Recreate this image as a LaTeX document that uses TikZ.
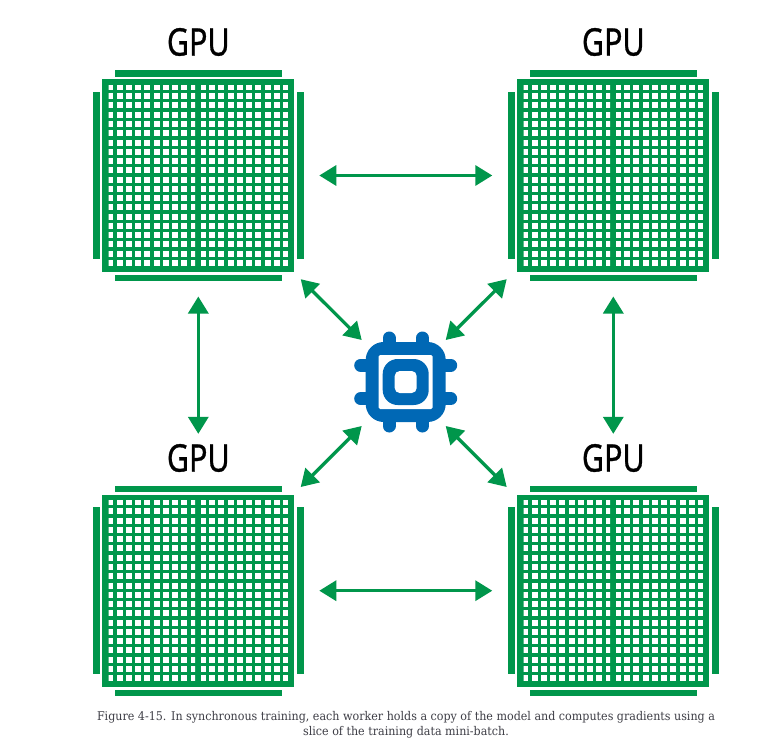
\documentclass[tikz,border=0pt]{standalone}
\usepackage{fontspec}
\usetikzlibrary{arrows.meta}
\newfontfamily\gpufont[FakeStretch=0.8,FakeBold=0.8]{Noto Sans}
\newfontfamily\capfont[FakeStretch=0.926]{DejaVu Serif}
\definecolor{gpugreen}{HTML}{00964B}
\definecolor{cpublue}{HTML}{0068B5}
\definecolor{captext}{HTML}{3E3E46}
\tikzset{
  gpubody/.style={draw=none,fill=gpugreen,minimum width=192pt,minimum height=192pt,inner sep=0pt,outer sep=0pt},
  gpulabel/.style={inner sep=0pt,font=\gpufont\fontsize{38}{38}\selectfont,text=black},
  link/.style={draw=gpugreen,line width=3.3pt,{Triangle[length=17pt,width=20pt]}-{Triangle[length=17pt,width=20pt]}},
  cpubody/.style={minimum width=84pt,minimum height=86pt,inner sep=0pt,outer sep=0pt},
  caption/.style={align=center,text=captext,inner sep=0pt,font=\capfont\fontsize{12}{14.5}\selectfont}
}
\newcommand{\gpuhalf}[1]{%
  \begin{scope}
    \clip (#1,5.7) rectangle +(86.7,180);
    \foreach \c in {-1,...,8}{\foreach \r in {-1,...,18}{
      \fill[white] ({#1+8+\c*9.27},{13.67+\r*9.27}) rectangle +(6,6);
    }}
  \end{scope}}
\newcommand{\gpuchip}[3]{%
  \begin{scope}[shift={(#1,#2)}]
    \node[gpubody] (#3) at (96,96) {};
    \fill[gpugreen] (12.4,-9.2) rectangle (180,-2.5);
    \fill[gpugreen] (12.4,195) rectangle (180,201.7);
    \fill[gpugreen] (-9,12.5) rectangle (-2.3,179.5);
    \fill[gpugreen] (195,12.5) rectangle (201.7,179.5);
    \gpuhalf{6.2}
    \gpuhalf{98.8}
  \end{scope}}
\begin{document}
\begin{tikzpicture}[x=1pt,y=-1pt]
\useasboundingbox (0,0) rectangle (762,743);
\fill[white] (0,0) rectangle (762,743);
\gpuchip{102.3}{79.5}{gpuA}
\gpuchip{517.3}{79.5}{gpuB}
\gpuchip{102.3}{494.7}{gpuC}
\gpuchip{517.3}{494.7}{gpuD}
\node[gpulabel] (labA) at (198.3,42) {GPU};
\node[gpulabel] (labB) at (613.3,42) {GPU};
\node[gpulabel] (labC) at (198.3,458) {GPU};
\node[gpulabel] (labD) at (613.3,458) {GPU};
\node[cpubody] (cpu) at (403.7,383) {};
\begin{scope}[shift={(405.7,382)}]
  \foreach \p in {-16.7,16.7}{
    \draw[cpublue,line width=13pt,line cap=round] (\p,-44) -- (\p,44);
    \draw[cpublue,line width=13pt,line cap=round] (-45,\p) -- (45,\p);
  }
  \fill[cpublue,rounded corners=18pt] (-40,-40) rectangle (40,40);
  \fill[white,rounded corners=1.5pt] (-27,-27) rectangle (27,27);
  \fill[cpublue,rounded corners=15pt] (-23,-23) rectangle (23,23);
  \fill[white,rounded corners=5pt] (-11,-11) rectangle (11,11);
\end{scope}
\draw[link,shorten <=25pt,shorten >=25pt] (gpuA.east) -- (gpuB.west);
\draw[link,shorten <=25pt,shorten >=25pt] (gpuC.east) -- (gpuD.west);
\draw[link,shorten <=25pt,shorten >=10pt] (gpuA.south) -- (gpuA.south |- labC.north);
\draw[link,shorten <=25pt,shorten >=10pt] (gpuB.south) -- (gpuB.south |- labD.north);
\draw[link] ([shift={(6.4,7.7)}]gpuA.south east) -- (cpu.north west);
\draw[link] ([shift={(-10.6,7.7)}]gpuB.south west) -- (cpu.north east);
\draw[link] ([shift={(6.4,-7.7)}]gpuC.north east) -- (cpu.south west);
\draw[link] ([shift={(-10.6,-7.7)}]gpuD.north west) -- (cpu.south east);
\node[caption] (cap) at (406,725) {Figure 4-15. In synchronous training, each worker holds a copy of the model and computes gradients using a\\slice of the training data mini-batch.};
\end{tikzpicture}
\end{document}
